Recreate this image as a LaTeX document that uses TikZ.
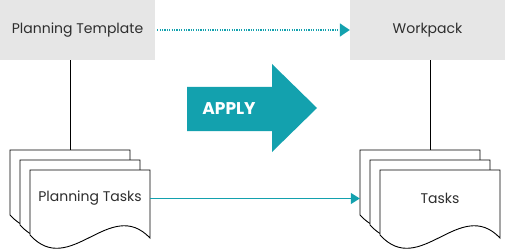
\documentclass[tikz,border=0pt]{standalone}
\usepackage{fontspec}
\setmainfont{Poppins}
\usetikzlibrary{positioning,arrows.meta}
\definecolor{tealmain}{HTML}{13A1AE}
\definecolor{boxgray}{HTML}{E6E6E6}
\definecolor{textgray}{HTML}{2E2E2E}
\newcommand{\docpage}[4]{% left, top, name, text
  \filldraw[pageline] (#1,#2) -- ++(120,0) -- ++(0,68)
    .. controls (#1+80,#2+26) and (#1+40,#2+109) .. (#1,#2+65) -- cycle;
  \node[pagetext] (#3) at (#1+60,#2+28.5) {#4};}

\begin{document}
\begin{tikzpicture}[
  x=1pt, y=-1pt,
  font=\fontsize{14}{16}\selectfont,
  box/.style={rectangle, fill=boxgray, text=textgray, minimum width=155pt, minimum height=60pt, inner sep=0pt},
  pageline/.style={fill=white, draw=black, line width=0.9pt},
  pagetext/.style={rectangle, text=textgray, minimum width=120pt, minimum height=57pt, inner sep=0pt},
  link/.style={tealmain, line width=1.4pt, -{Triangle[length=9pt,width=11pt]}},
  dotlink/.style={tealmain, line width=1.8pt, dash pattern=on 1.2pt off 1.2pt, -{Triangle[length=10pt,width=13pt]}},
  applytext/.style={text=white, font=\fontsize{17}{19}\selectfont\bfseries, inner sep=0pt}]

\useasboundingbox (0,0) rectangle (505,251);

\node[box] (template) at (77.5,30) {Planning Template};
\node[box] (workpack) at (427.5,30) {Workpack};

% apply arrow
\fill[tealmain] (187,87) -- (272,87) -- (272,64) -- (317,108) -- (272,152) -- (272,131) -- (187,131) -- cycle;
\node[applytext] (apply) at (229,109) {APPLY};

% stacks
\docpage{10}{150}{ptA}{}
\docpage{20}{160}{ptB}{}
\docpage{30}{170}{ptC}{Planning Tasks}
\docpage{360}{150}{tkA}{}
\docpage{370}{160}{tkB}{}
\docpage{380}{170}{tkC}{Tasks}

\draw[line width=0.9pt] (ptA.north |- template.south) -- (ptA.north);
\draw[line width=0.9pt] (tkB.north |- workpack.south) -- ([yshift=10pt]tkB.north);

\draw[dotlink] ([xshift=2pt]template.east) -- (workpack.west);
\draw[link] (ptC.east) -- (ptC.east -| tkA.west);
\end{tikzpicture}
\end{document}
